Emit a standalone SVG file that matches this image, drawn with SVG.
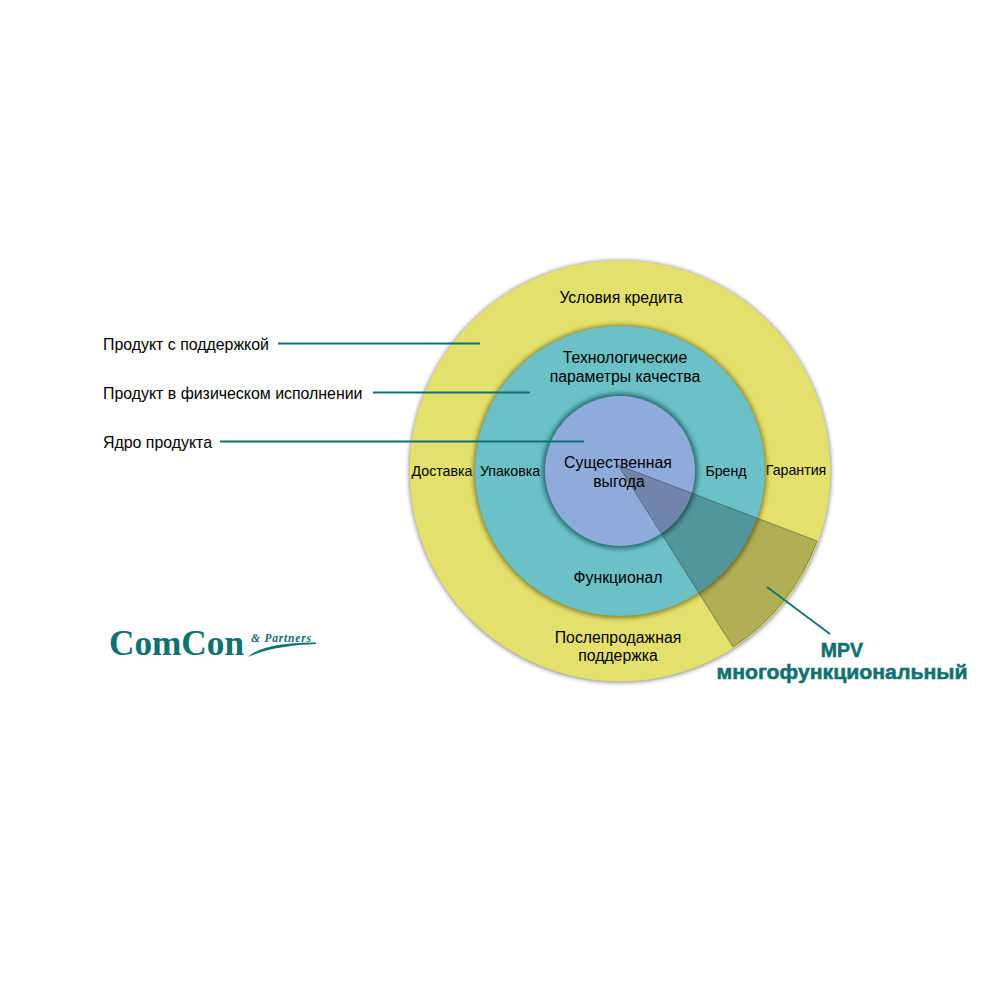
<svg xmlns="http://www.w3.org/2000/svg" width="1000" height="1000" viewBox="0 0 1000 1000">
<style>
text{font-family:"Liberation Sans",Arial,sans-serif;fill:#000;text-anchor:middle}
.l{font-size:15.9px;text-anchor:start}
.m{font-size:15.8px}
.s{font-size:14.2px}
.lead{stroke:#0f7170;stroke-width:1.8;fill:none}
.mpv{font-size:19.5px;font-weight:bold;fill:#0f7170;stroke:#0f7170;stroke-width:.5}
</style>
<defs>
<filter id="sh" x="-10%" y="-10%" width="120%" height="120%"><feGaussianBlur stdDeviation="2.2"/></filter>
</defs>
<rect width="1000" height="1000" fill="#fff"/>
<g id="ring-outer">
<circle cx="620" cy="471.500" r="211" fill="#444" opacity=".65" filter="url(#sh)"/>
<circle cx="620" cy="471" r="210.500" fill="#e3e06b"/>
<text class="m" x="621" y="302.500">Условия кредита</text>
<text class="s" x="442" y="476">Доставка</text>
<text class="s" x="796" y="475">Гарантия</text>
<text class="m" x="618" y="642.500">Послепродажная</text>
<text class="m" x="618" y="660.500">поддержка</text>
</g>
<g id="ring-middle">
<circle cx="620" cy="471.500" r="147" fill="#6f6a20" opacity=".75" filter="url(#sh)"/>
<circle cx="620" cy="471" r="145" fill="#6bc1c6"/>
<text class="m" x="625" y="362.500">Технологические</text>
<text class="m" x="625" y="381.500">параметры качества</text>
<text class="s" x="510" y="476">Упаковка</text>
<text class="s" x="726" y="476">Бренд</text>
<text class="m" x="618" y="583">Функционал</text>
</g>
<g id="ring-inner">
<circle cx="620" cy="471" r="78" fill="#1d5f60" opacity=".8" filter="url(#sh)"/>
<circle cx="620" cy="471" r="75" fill="#8fabdc"/>
<text class="m" x="618" y="467.500">Существенная</text>
<text class="m" x="619" y="486.500">выгода</text>
</g>
<g id="mpv-sector">
<path d="M618 465L817 541A211 211 0 0 1 733 647Z" fill="#000" fill-opacity=".22" stroke="#2c3a40" stroke-opacity=".6" stroke-width=".8"/>
<text class="mpv" x="842" y="657">MPV</text>
<text class="mpv" x="842" y="679" textLength="251" lengthAdjust="spacingAndGlyphs">многофункциональный</text>
</g>
<g id="connectors">
<path class="lead" d="M278 343.500H480"/>
<path class="lead" d="M373 392.500H530"/>
<path class="lead" d="M220 441.500H584"/>
<path class="lead" d="M767 587L830 634"/>
</g>
<g id="labels">
<text class="l" x="103" y="349.700">Продукт с поддержкой</text>
<text class="l" x="103" y="398.700">Продукт в физическом исполнении</text>
<text class="l" x="103" y="447.700">Ядро продукта</text>
</g>
<g id="logo">
<text x="109" y="655" style="font-family:'Liberation Serif',serif;font-weight:bold;font-size:36px;text-anchor:start;fill:#0f7170" textLength="135" lengthAdjust="spacingAndGlyphs">ComCon</text>
<text x="251" y="642" style="font-family:'Liberation Serif',serif;font-weight:bold;font-style:italic;font-size:11.500px;text-anchor:start;fill:#0f7170;letter-spacing:.8px">&amp; Partners</text>
<path d="M248 657C258 647 285 642 316 642.500L316 644C290 645 265 649 248 657Z" fill="#0f7170"/>
</g>
</svg>
